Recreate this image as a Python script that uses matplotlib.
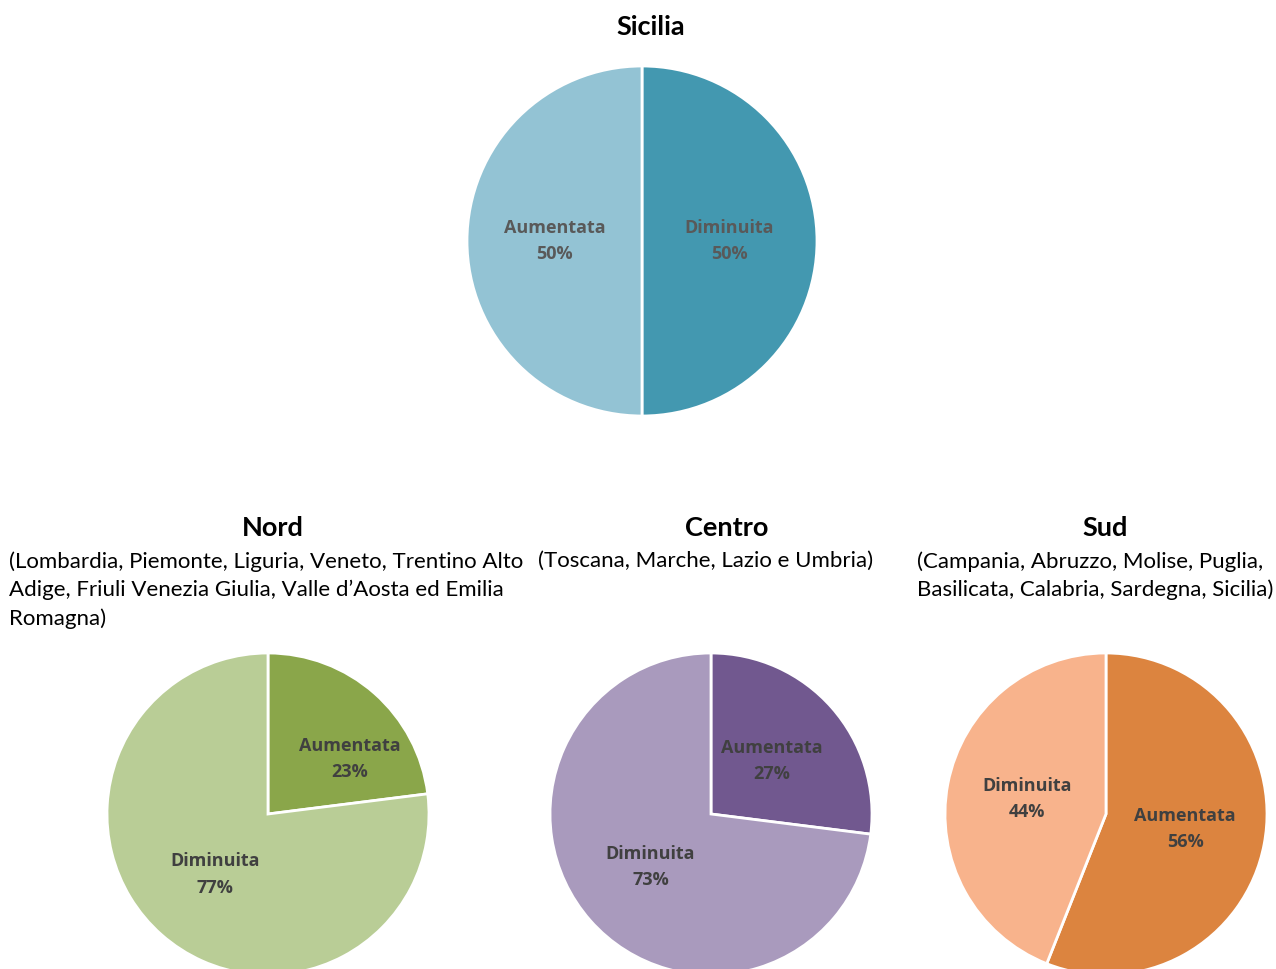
import matplotlib
matplotlib.use("Agg")
import matplotlib.pyplot as plt
import numpy as np

W, H = 1276, 969

# Data
sicilia_labels = ["Diminuita", "Aumentata"]
sicilia_values = [50, 50]
nord_labels = ["Aumentata", "Diminuita"]
nord_values = [23, 77]
centro_labels = ["Aumentata", "Diminuita"]
centro_values = [27, 73]
sud_labels = ["Aumentata", "Diminuita"]
sud_values = [56, 44]

titles = ["Sicilia", "Nord", "Centro", "Sud"]
subtitles = [
    "",
    "(Lombardia, Piemonte, Liguria, Veneto, Trentino Alto\nAdige, Friuli Venezia Giulia, Valle d\u2019Aosta ed Emilia\nRomagna)",
    "(Toscana, Marche, Lazio e Umbria)",
    "(Campania, Abruzzo, Molise, Puglia,\nBasilicata, Calabria, Sardegna, Sicilia)",
]

fig = plt.figure(figsize=(W / 100, H / 100), dpi=100)
fig.patch.set_facecolor("white")


def px_axes(cx, cy, r):
    return fig.add_axes([(cx - r) / W, (H - cy - r) / H, 2 * r / W, 2 * r / H])


def draw_pie(ax, labels, values, colors, txtcolor):
    it = iter(zip(labels, values))

    def fmt(p):
        lab, v = next(it)
        return f"{lab}\n{v}%"

    wedges, texts, autotexts = ax.pie(
        values, colors=colors, startangle=90, counterclock=False,
        autopct=fmt, pctdistance=0.5, radius=1.0,
        wedgeprops=dict(edgecolor="white", linewidth=2),
        textprops=dict(fontsize=13, fontweight="bold", color=txtcolor,
                       family="Open Sans", linespacing=1.6),
    )
    ax.set_xlim(-1, 1)
    ax.set_ylim(-1, 1)
    ax.set_aspect("equal")
    ax.axis("off")
    return autotexts


# Sicilia
ax0 = px_axes(642, 241, 175)
draw_pie(ax0, sicilia_labels, sicilia_values, ["#4398b0", "#93c3d4"], "#595959")

# Nord
ax1 = px_axes(268, 814, 161)
at = draw_pie(ax1, nord_labels, nord_values, ["#8aa64a", "#b9cd96"], "#404040")
at[0].set_position((0.51, 0.34))

# Centro
ax2 = px_axes(711, 814, 161)
draw_pie(ax2, centro_labels, centro_values, ["#71588f", "#a99abd"], "#404040")

# Sud
ax3 = px_axes(1106, 814, 161)
draw_pie(ax3, sud_labels, sud_values, ["#dc843f", "#f8b38c"], "#404040")

# Titles
tstyle = dict(fontsize=19.5, fontweight="bold", family="Lato", color="black",
              ha="center", va="center")
fig.text(651 / W, 1 - 27 / H, titles[0], **tstyle)
fig.text(273 / W, 1 - 528 / H, titles[1], **tstyle)
fig.text(727 / W, 1 - 528 / H, titles[2], **tstyle)
fig.text(1105 / W, 1 - 528 / H, titles[3], **tstyle)

sstyle = dict(fontsize=16, family="Lato", color="black", ha="left", va="top",
              linespacing=1.5)
fig.text(9 / W, 1 - 551 / H, subtitles[1], **sstyle)
fig.text(538 / W, 1 - 551 / H, subtitles[2], **sstyle)
fig.text(917 / W, 1 - 551 / H, subtitles[3], **sstyle)

fig.savefig("out.png", dpi=100, facecolor="white")
